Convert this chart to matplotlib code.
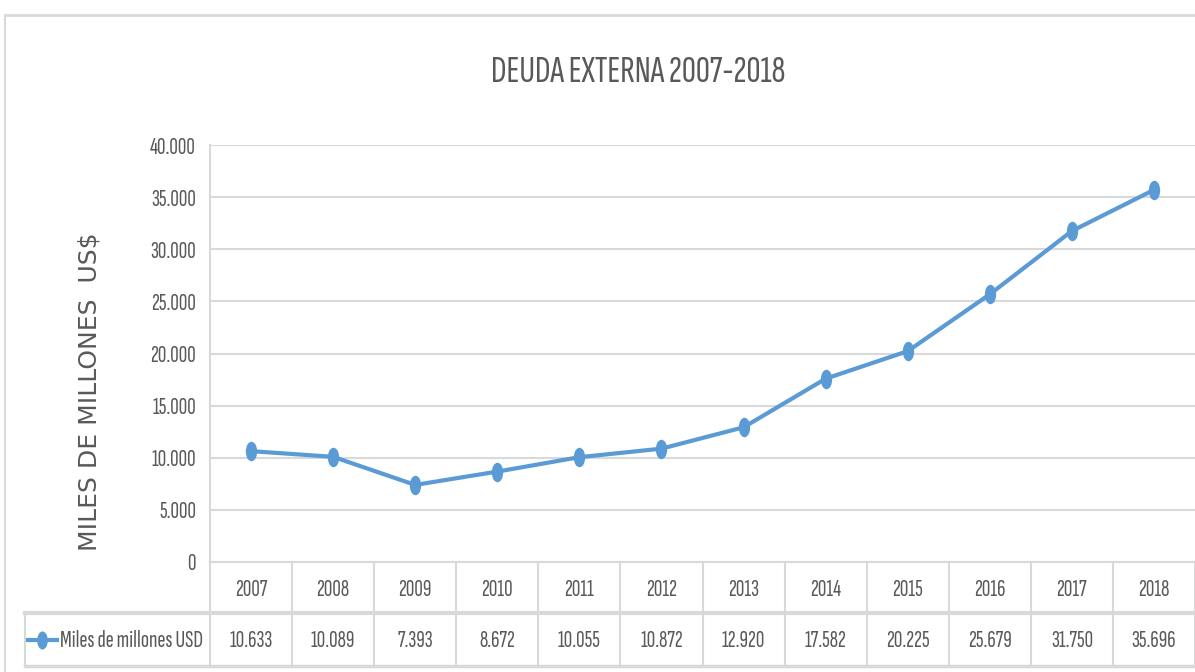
import numpy as np
import matplotlib
matplotlib.use('Agg')
import matplotlib.pyplot as plt
from matplotlib.path import Path
from matplotlib.transforms import Affine2D
from matplotlib.lines import Line2D
from matplotlib.ticker import FuncFormatter

# data
years = ['2007', '2008', '2009', '2010', '2011', '2012',
         '2013', '2014', '2015', '2016', '2017', '2018']
deuda = [10633, 10089, 7393, 8672, 10055, 10872,
         12920, 17582, 20225, 25679, 31750, 35696]
serie = 'Miles de millones USD'
titulo = 'DEUDA EXTERNA 2007-2018'
ylabel = 'MILES DE MILLONES  US$'

W, H = 1195, 672
NARROW = ['Sofia Sans Extra Condensed', 'Saira ExtraCondensed', 'DejaVu Sans']
GRIS = '#595959'
LINEA = '#d9d9d9'
AZUL = '#5b9bd5'

# tall ellipse marker (the original is squeezed horizontally)
elipse = Path.unit_circle().transformed(Affine2D().scale(0.55, 1.0))

def miles(v, pos):
    return '{:,.0f}'.format(v).replace(',', '.')

fig = plt.figure(figsize=(W / 100, H / 100), dpi=100)
fig.patch.set_facecolor('white')

# chart border (top and left visible)
fig.add_artist(Line2D([5 / W, 1], [1 - 15 / H, 1 - 15 / H], color=LINEA, lw=2))
fig.add_artist(Line2D([5 / W, 5 / W], [0, 1 - 15 / H], color=LINEA, lw=1.5))

ax = fig.add_axes([210 / W, (H - 562) / H, 985 / W, (562 - 145) / H])
x = np.arange(len(years))
ax.plot(x, deuda, color=AZUL, lw=3, marker=elipse, markersize=13,
        markerfacecolor=AZUL, markeredgecolor=AZUL, solid_capstyle='round')
ax.set_xlim(-0.5, len(years) - 0.5)
ax.set_ylim(0, 40000)
ax.set_yticks(np.arange(0, 40001, 5000))
ax.yaxis.set_major_formatter(FuncFormatter(miles))
ax.set_xticks([])
ax.grid(axis='y', color=LINEA, lw=1.5)
ax.set_axisbelow(True)
for s in ['top', 'right', 'bottom']:
    ax.spines[s].set_visible(False)
ax.spines['left'].set_color(LINEA)
ax.spines['left'].set_linewidth(1.5)
ax.tick_params(axis='y', length=0, pad=10, labelsize=17, labelcolor=GRIS)
for t in ax.get_yticklabels():
    t.set_family(NARROW)

fig.text(638 / W, 1 - 72 / H, titulo, ha='center', va='center',
         fontsize=28, color=GRIS, family=NARROW)
fig.text(90 / W, 1 - 392 / H, ylabel, rotation=90, ha='center', va='center',
         fontsize=18, color=GRIS, family='DejaVu Sans')

# data table under the plot
tax = fig.add_axes([210 / W, (H - 666) / H, 985 / W, (666 - 562) / H])
tax.set_xlim(-0.5, len(years) - 0.5)
tax.set_ylim(0, 1)
tax.axis('off')
col = 82.08
izq = -0.5 - 185 / col
mid = 53 / 104
kw = dict(color=LINEA, lw=1.5, clip_on=False)
tax.plot([-0.5, len(years) - 0.5], [1, 1], **kw)
tax.plot([izq, len(years) - 0.5], [mid, mid], color=LINEA, lw=3, clip_on=False)
tax.plot([izq, len(years) - 0.5], [0, 0], color=LINEA, lw=2.5, clip_on=False)
tax.plot([izq, izq], [0, mid], **kw)
for k in range(len(years) + 1):
    tax.plot([k - 0.5, k - 0.5], [0, 1], **kw)
for i, (a, v) in enumerate(zip(years, deuda)):
    tax.text(i, 0.73, a, ha='center', va='center', fontsize=17,
             color=GRIS, family=NARROW)
    tax.text(i, 0.24, miles(v, None), ha='center', va='center', fontsize=17,
             color=GRIS, family=NARROW)

# legend key in the label cell
lx0 = -0.5 - 182 / col
lx1 = -0.5 - 153 / col
tax.plot([lx0, lx1], [0.25, 0.25], color=AZUL, lw=3, clip_on=False)
tax.plot([(lx0 + lx1) / 2], [0.25], marker=elipse, markersize=12, color=AZUL,
         clip_on=False)
tax.text(-0.5 - 150 / col, 0.24, serie, ha='left', va='center', fontsize=17.5,
         color=GRIS, family=NARROW)

fig.savefig('out.png', dpi=100, facecolor='white')
